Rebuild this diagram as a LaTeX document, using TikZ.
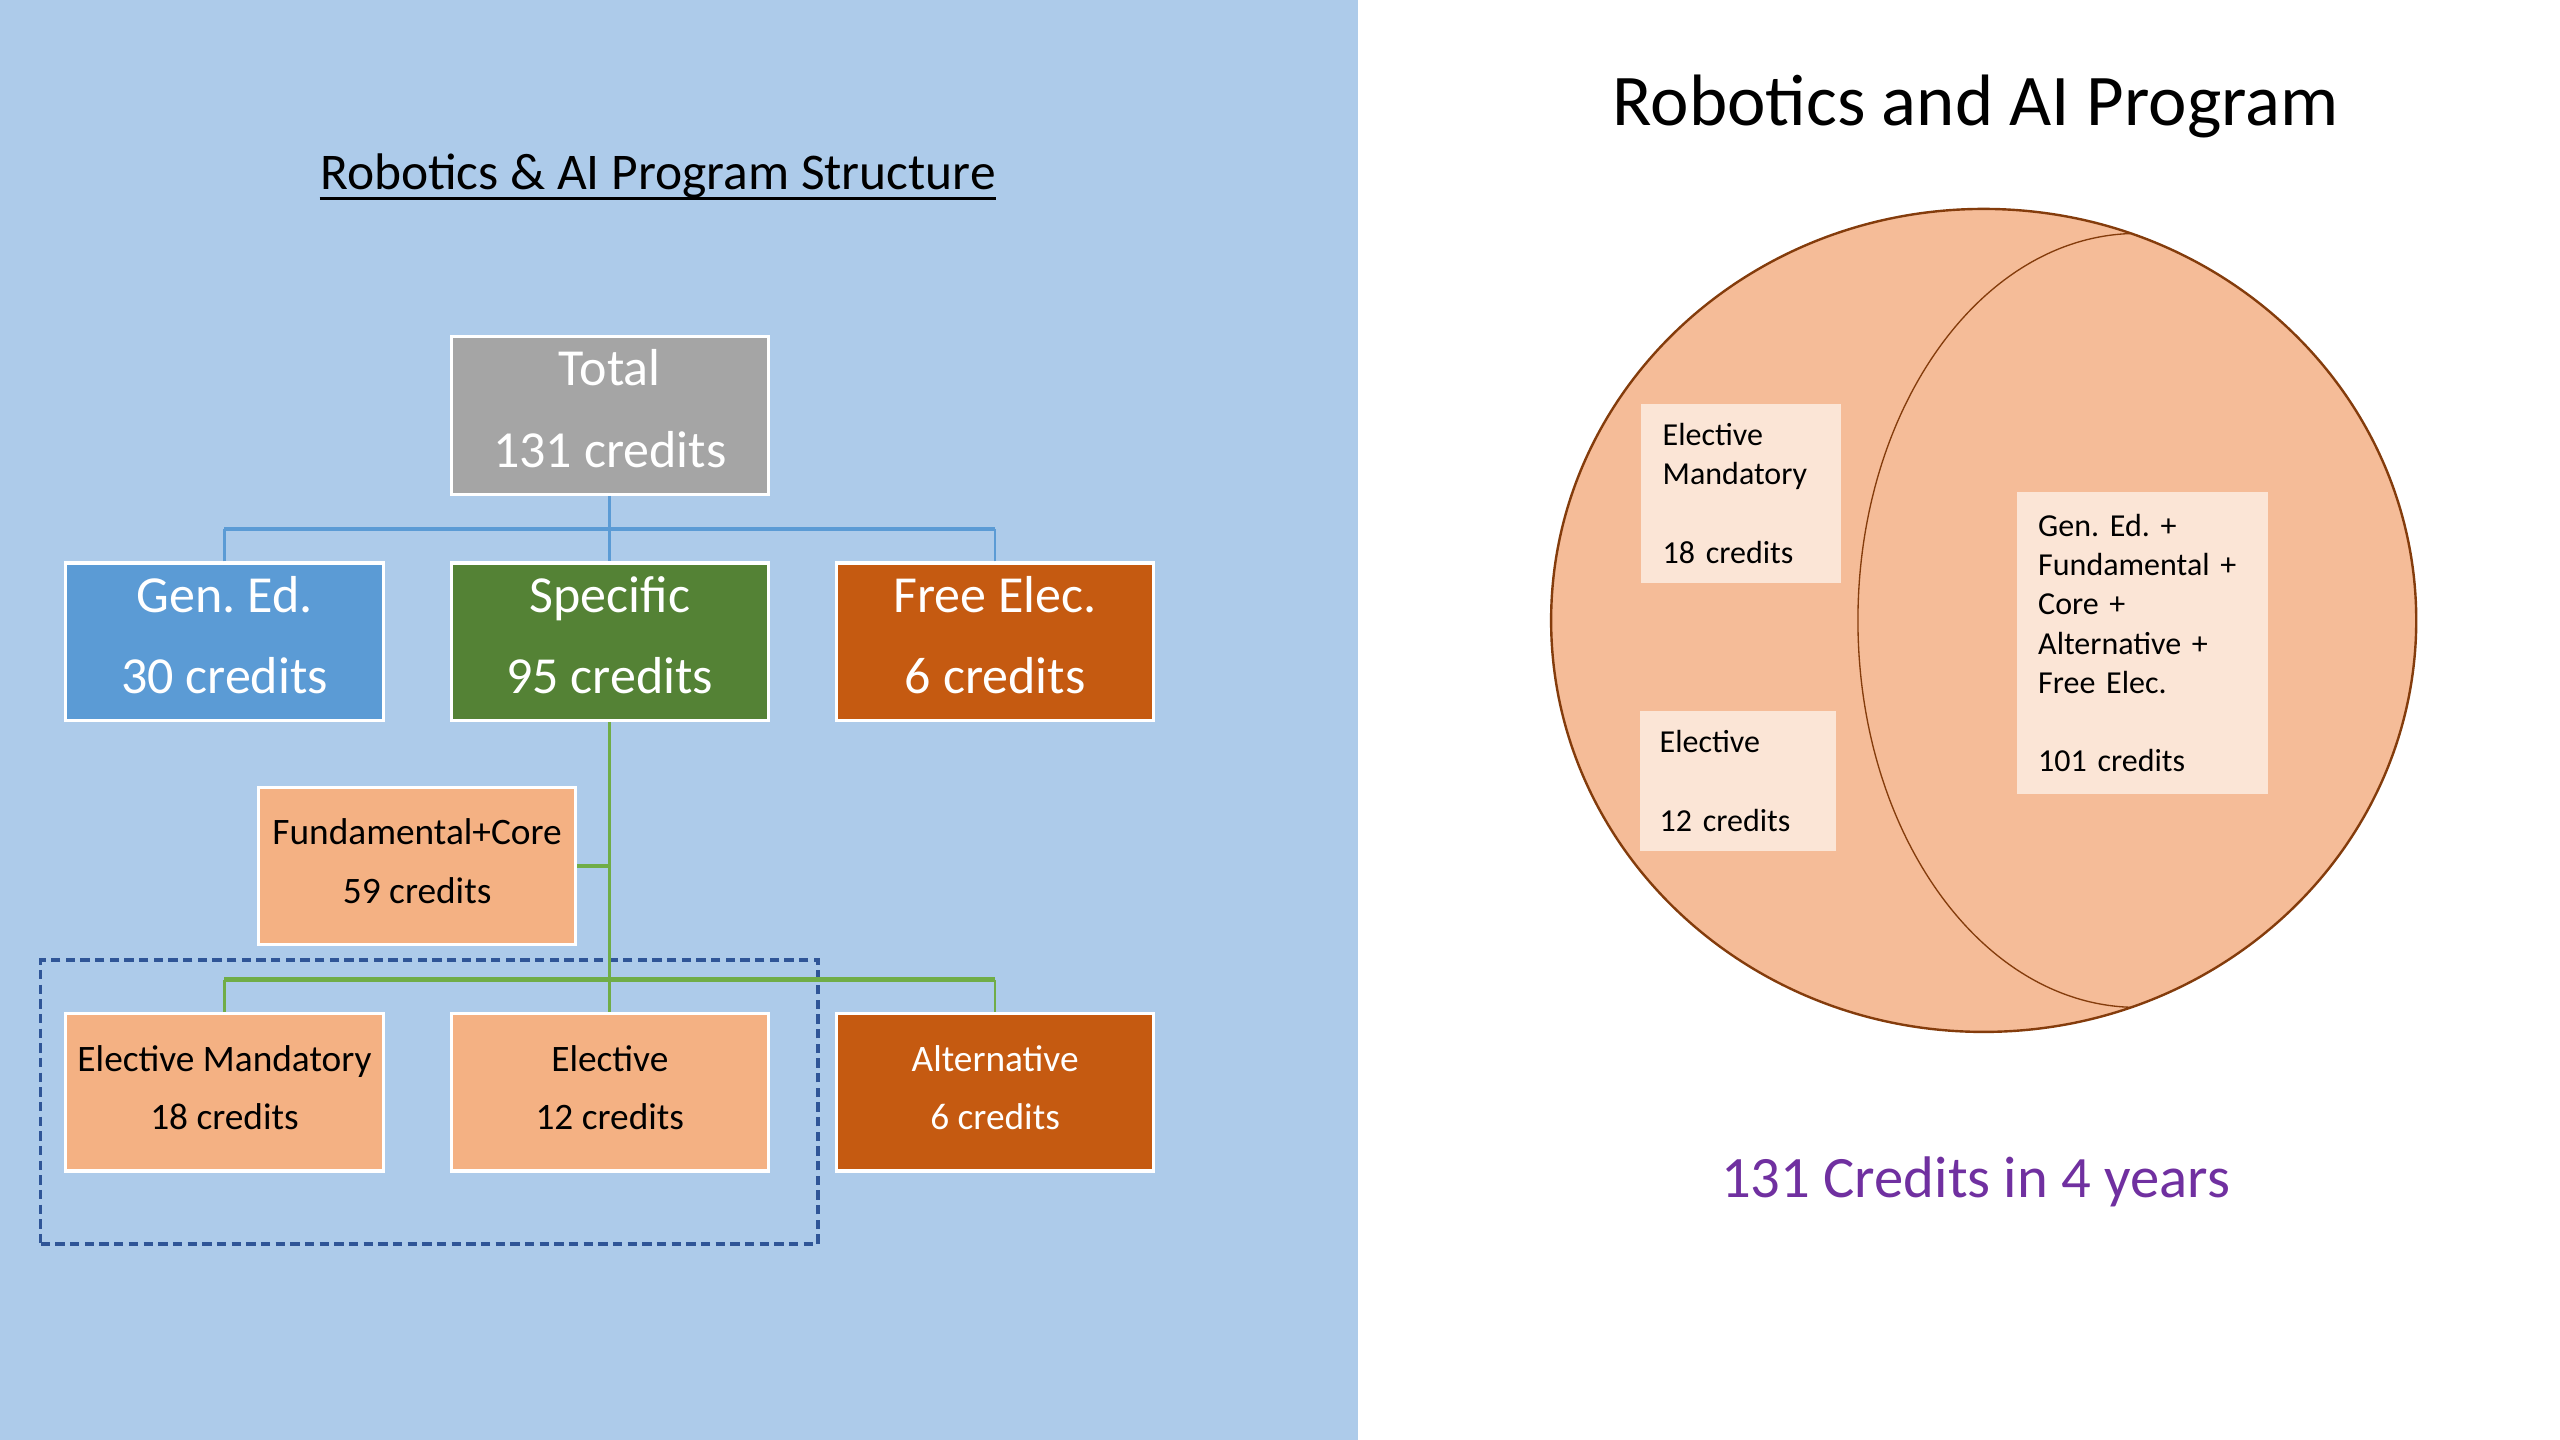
\documentclass[tikz,border=0pt]{standalone}
\usepackage{fontspec}
\setmainfont{Carlito}
\frenchspacing
\definecolor{panelblue}{HTML}{ADCBEA}
\definecolor{totalgray}{HTML}{A5A5A5}
\definecolor{genblue}{HTML}{5B9BD5}
\definecolor{specgreen}{HTML}{548235}
\definecolor{darkorange}{HTML}{C55A11}
\definecolor{lightorange}{HTML}{F4B183}
\definecolor{linkblue}{HTML}{5B9BD5}
\definecolor{linkgreen}{HTML}{70AD47}
\definecolor{dashblue}{HTML}{2F5597}
\definecolor{vennfill}{HTML}{F5BC98}
\definecolor{vennline}{HTML}{843C0C}
\definecolor{vennbox}{HTML}{FBE5D6}
\definecolor{purpletext}{HTML}{7030A0}
\newcommand{\dropbig}{\rule[-5.5pt]{0pt}{0pt}}
\newcommand{\dropsmall}{\rule[-3.6pt]{0pt}{0pt}}
\begin{document}
\begin{tikzpicture}[x=0.6122pt,y=-0.6122pt,
  bigbox/.style={draw=white, line width=1.2pt, minimum width=119pt, minimum height=59pt,
    inner sep=0pt, align=center, text=white, font=\fontsize{19.5}{30.6}\selectfont},
  smallbox/.style={bigbox, text=black, font=\fontsize{14}{22}\selectfont},
  vbox/.style={fill=vennbox, inner xsep=8pt, inner ysep=0pt, align=left, anchor=north west,
    font=\fontsize{12}{14.7}\selectfont},
  link/.style={line width=1pt},
  bar/.style={line width=1.6pt}]
\useasboundingbox (0,0) rectangle (1568,882);
\fill[panelblue] (0,0) rectangle (832,882);
\fill[white] (832,0) rectangle (1568,882);

% left title
\node[font=\fontsize{19.3}{23}\selectfont, inner sep=0pt, anchor=base] (ltitle) at (403,116) {Robotics \& AI Program Structure};
\draw[line width=1.1pt] (ltitle.west |- 0,121.5) -- (ltitle.east |- 0,121.5);

% tree nodes
\node[bigbox, fill=totalgray] (total) at (373.5,254.5) {Total\\131 credits\dropbig};
\node[bigbox, fill=genblue] (gened) at (137.5,393) {Gen. Ed.\\30 credits\rule[-5pt]{0pt}{0pt}};
\node[bigbox, fill=specgreen] (specific) at (373.5,393) {Specific\\95 credits\rule[-5pt]{0pt}{0pt}};
\node[bigbox, fill=darkorange] (freeelec) at (609.5,393) {Free Elec.\\6 credits\rule[-5pt]{0pt}{0pt}};
\node[smallbox, fill=lightorange] (fund) at (255.5,530.5) {Fundamental+Core\\59 credits\dropsmall};
\node[smallbox, fill=lightorange] (elmand) at (137.5,669) {Elective Mandatory\\18 credits\dropsmall};
\node[smallbox, fill=lightorange] (elective) at (373.5,669) {Elective\\12 credits\dropsmall};
\node[smallbox, fill=darkorange, text=white] (alt) at (609.5,669) {Alternative\\6 credits\dropsmall};

% dashed group
\node[draw=dashblue, line width=1.2pt, dash pattern=on 3.5pt off 2pt, minimum width=291.4pt, minimum height=106.5pt, inner sep=0pt] (grp) at (263,675) {};

% blue connectors
\coordinate (bj) at (373.5,324);
\draw[linkblue, link] (total.south) -- (bj);
\draw[linkblue, bar] (gened.north |- bj) -- (freeelec.north |- bj);
\draw[linkblue, link] (gened.north) -- (gened.north |- bj);
\draw[linkblue, link] (freeelec.north) -- (freeelec.north |- bj);
\draw[linkblue, link] (bj) -- (specific.north);

% green connectors
\coordinate (gj) at (373.5,600);
\draw[linkgreen, link] (specific.south) -- (elective.north);
\draw[linkgreen, bar] (fund.east) -- (fund.east -| specific.south);
\draw[linkgreen, bar] (elmand.north |- gj) -- (alt.north |- gj);
\draw[linkgreen, link] (elmand.north) -- (elmand.north |- gj);
\draw[linkgreen, link] (alt.north) -- (alt.north |- gj);

% right title
\node[font=\fontsize{27.3}{32}\selectfont, inner sep=0pt] (rtitle) at (1210,65) {Robotics and AI Program};

% Venn
\coordinate (vc) at (1215,380);
\coordinate (ic) at (1309,380);
\begin{scope}
  \clip (vc) ellipse [x radius=162.2pt, y radius=154.3pt];
  \fill[vennfill] (vc) ellipse [x radius=162.2pt, y radius=154.3pt];
  \draw[vennline, line width=0.5pt] (ic) ellipse [x radius=104.7pt, y radius=145.1pt];
\end{scope}
\draw[vennline, line width=0.9pt] (vc) ellipse [x radius=162.2pt, y radius=154.3pt];

\node[vbox, text width=58.7pt, minimum height=67.3pt] (vb1) at (1005,247) {Elective\\Mandatory\\[14.7pt]18 credits};
\node[vbox, text width=58.7pt, minimum height=52.6pt, inner xsep=7.5pt] (vb2) at (1004,435) {Elective\\[14.7pt]12 credits};
\node[vbox, text width=78.3pt, minimum height=113.3pt] (vb3) at (1235,301) {Gen. Ed. +\\Fundamental +\\Core +\\Alternative +\\Free Elec.\\[14.7pt]101 credits};

\node[font=\fontsize{22}{26}\selectfont, text=purpletext, inner sep=0pt] (credits) at (1210,724) {131 Credits in 4 years};
\end{tikzpicture}
\end{document}
